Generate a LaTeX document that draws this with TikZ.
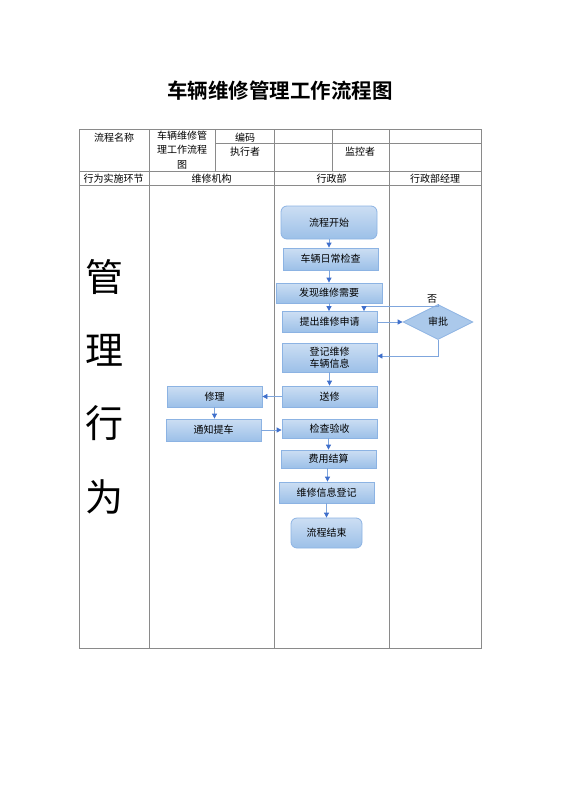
\documentclass[tikz,border=0pt]{standalone}
\usepackage{fontspec}
\setmainfont{Noto Sans CJK SC}
\newfontfamily\cjkbold{Noto Sans CJK SC Bold}
\usetikzlibrary{arrows.meta,shapes.geometric}
\definecolor{gridc}{HTML}{8A8A8A}
\definecolor{boxtop}{HTML}{CCDEF3}
\definecolor{boxbot}{HTML}{9CC0E8}
\definecolor{boxline}{HTML}{8CB3E3}
\definecolor{linec}{HTML}{7FA6DD}
\definecolor{tipc}{HTML}{3F6FCB}
\tikzset{
  grid/.style={draw=gridc, line width=0.8pt},
  cell/.style={font=\fontsize{10}{14.5}\selectfont, inner sep=0pt, align=center},
  big/.style={font=\fontsize{38}{40}\selectfont, inner sep=0pt},
  procbox/.style={draw=boxline, line width=0.8pt, top color=boxtop, bottom color=boxbot,
    font=\fontsize{10}{12.5}\selectfont, align=center, inner sep=0pt},
  termbox/.style={procbox, rounded corners=6pt},
  decbox/.style={diamond, draw=boxline, line width=0.8pt, fill=boxbot!85!white,
    font=\fontsize{10}{12}\selectfont, inner sep=0pt, minimum width=70pt, minimum height=35pt, aspect=2},
  flow/.style={draw=linec, line width=0.8pt, -{Triangle[length=5pt,width=5pt,color=tipc]}},
}
\begin{document}
\begin{tikzpicture}[x=1pt,y=-1pt]
\useasboundingbox (0,0) rectangle (560,792);
% title
\node[font=\cjkbold\fontsize{20.5}{22}\selectfont, inner sep=0pt] (title) at (280,91) {车辆维修管理工作流程图};
% table grid
\draw[grid] (79,129) rectangle (481,648);
\draw[grid] (215,143) -- (481,143);
\draw[grid] (79,171) -- (481,171);
\draw[grid] (79,185) -- (481,185);
\draw[grid] (149,129) -- (149,648);
\draw[grid] (274,129) -- (274,648);
\draw[grid] (389,129) -- (389,648);
\draw[grid] (215,129) -- (215,171);
\draw[grid] (332,129) -- (332,171);
% table text
\node[cell] (c1) at (114,137.5) {流程名称};
\node[cell, anchor=north] (c2) at (182,130.5) {车辆维修管\\理工作流程\\图};
\node[cell] (c3) at (245,137.5) {编码};
\node[cell] (c4) at (245,151.5) {执行者};
\node[cell] (c5) at (360,151.5) {监控者};
\node[cell] (h1) at (113.5,178.5) {行为实施环节};
\node[cell] (h2) at (211.5,178.5) {维修机构};
\node[cell] (h3) at (331.5,178.5) {行政部};
\node[cell] (h4) at (435,178.5) {行政部经理};
% big vertical text
\node[big] (g1) at (104,277) {管};
\node[big] (g2) at (104,350) {理};
\node[big] (g3) at (104,423) {行};
\node[big] (g4) at (104,497) {为};
% flowchart nodes
\node[termbox, minimum width=96pt, minimum height=33pt] (start) at (329,222.5) {流程开始};
\node[procbox, minimum width=95pt, minimum height=22pt] (check) at (330.5,259) {车辆日常检查};
\node[procbox, minimum width=106pt, minimum height=20pt] (find) at (329,293) {发现维修需要};
\node[procbox, minimum width=95pt, minimum height=21pt] (apply) at (329.5,322) {提出维修申请};
\node[decbox] (approve) at (438,322) {审批};
\node[procbox, minimum width=95pt, minimum height=29pt] (reg) at (329.5,357.5) {登记维修\\车辆信息};
\node[procbox, minimum width=95pt, minimum height=21pt] (send) at (329.5,396.5) {送修};
\node[procbox, minimum width=95pt, minimum height=21pt] (repair) at (214.5,396.5) {修理};
\node[procbox, minimum width=95pt, minimum height=22pt] (notify) at (213.5,430) {通知提车};
\node[procbox, minimum width=95pt, minimum height=19pt] (accept) at (329.5,428.5) {检查验收};
\node[procbox, minimum width=95pt, minimum height=18pt] (fee) at (328.5,459) {费用结算};
\node[procbox, minimum width=95pt, minimum height=21pt] (info) at (326.5,492.5) {维修信息登记};
\node[termbox, minimum width=71pt, minimum height=30pt] (end) at (326.5,533) {流程结束};
\node[cell] (no) at (432,299) {否};
% connectors
\draw[flow] (start.south) -- (start.south |- check.north);
\draw[flow] (check.south -| start.south) -- (find.north -| start.south);
\draw[flow] (find.south) -- (find.south |- apply.north);
\draw[flow] (apply.east) -- (approve.west);
\coordinate (nr) at (364,306.5);
\draw[flow] (approve.north) -- (approve.north |- nr) -- (nr) -- (nr |- apply.north);
\coordinate (yr) at (438,356);
\draw[flow] (approve.south) -- (yr) -- (yr -| reg.east);
\draw[flow] (reg.south) -- (reg.south |- send.north);
\draw[flow] (send.west) -- (repair.east);
\draw[flow] (repair.south) -- (repair.south |- notify.north);
\draw[flow] (notify.east) -- (notify.east -| accept.west);
\draw[flow] (accept.south -| fee.north) -- (fee.north);
\draw[flow] (fee.south -| 327.5,0) -- (327.5,0 |- info.north);
\draw[flow] (info.south) -- (info.south |- end.north);
\end{tikzpicture}
\end{document}
